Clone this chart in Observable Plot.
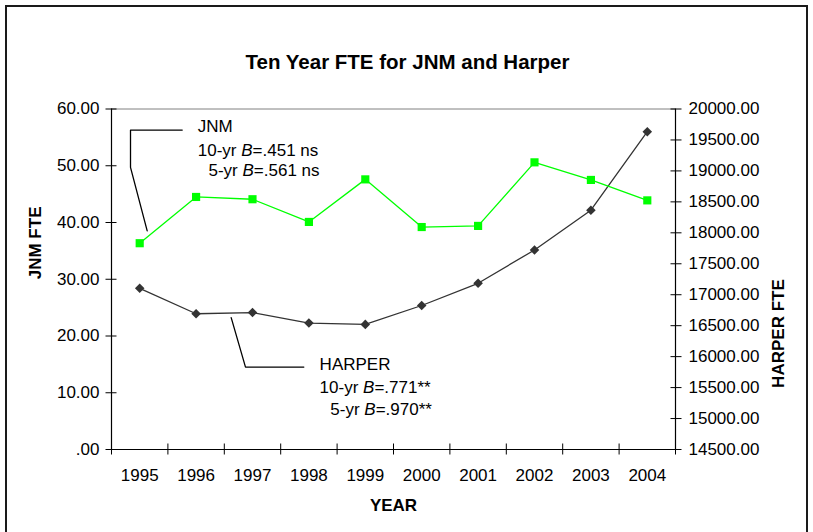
<!DOCTYPE html>
<html><head><meta charset="utf-8">
<script src="https://cdn.jsdelivr.net/npm/d3@7"></script>
<script src="https://cdn.jsdelivr.net/npm/@observablehq/plot@0.6"></script>
<style>
html,body{margin:0;padding:0;background:#fff;overflow:hidden;}
#wrap{position:relative;width:813px;height:532px;overflow:hidden;}
#frame{position:absolute;left:5px;top:5px;width:803px;height:560px;border:2px solid #1a1a1a;box-sizing:border-box;pointer-events:none;}
</style></head><body>
<div id="wrap"><div id="chart"></div><div id="frame"></div></div>
<script>
// ---- data ----
const years = [1995, 1996, 1997, 1998, 1999, 2000, 2001, 2002, 2003, 2004];
const jnm = [36.35, 44.5, 44.1, 40.1, 47.6, 39.2, 39.4, 50.6, 47.5, 43.9];
const harper = [17104, 16693, 16712, 16542, 16521, 16826, 17185, 17723, 18366, 19633];
const leftTicks = [0, 10, 20, 30, 40, 50, 60];
const rightTicks = [14500, 15000, 15500, 16000, 16500, 17000, 17500, 18000, 18500, 19000, 19500, 20000];
const title = "Ten Year FTE for JNM and Harper";
const xTitle = "YEAR", yLeftTitle = "JNM FTE", yRightTitle = "HARPER FTE";

// annotation (data coordinates: year, JNM scale)
const jnmLeader = [[1995.133, 38.52], [1994.837, 49.71], [1994.837, 56.29], [1995.754, 56.29]];
const harperLeader = [[1996.622, 23.24], [1996.876, 14.52], [1997.91, 14.52]];
const notes = [
  {x: 1996.03, y: 56.87, text: "JNM"},
  {x: 1996.03, y: 52.76, text: "10-yr B=.451 ns"},
  {x: 1996.22, y: 49.11, text: "5-yr B=.561 ns"},
  {x: 1998.19, y: 15.0, text: "HARPER"},
  {x: 1998.19, y: 10.89, text: "10-yr B=.771**"},
  {x: 1998.38, y: 7.0, text: "5-yr B=.970**"}
];

// ---- derived ----
const hMin = rightTicks[0], hMax = rightTicks[rightTicks.length - 1];
const lMax = leftTicks[leftTicks.length - 1];
const toLeft = h => (h - hMin) / (hMax - hMin) * lMax;
const fromLeft = v => Math.round(v * (hMax - hMin) / lMax + hMin);
const rows = years.map((y, i) => ({year: y, jnm: jnm[i], harper: harper[i]}));
const xMin = years[0] - 0.5, xMax = years[years.length - 1] + 0.5;
const bounds = years.map(y => y - 0.5).concat([xMax]);
const fmtL = d => d3.format(".2f")(d).replace(/^0\./, ".");
const fmtR = d => d3.format(".2f")(fromLeft(d));
const FONT = "Liberation Sans, Arial, Helvetica, sans-serif";

const chart = Plot.plot({
  width: 813,
  height: 532,
  marginLeft: 111,
  marginRight: 138,
  marginTop: 108.5,
  marginBottom: 83,
  style: {fontFamily: FONT, fontSize: "17px", color: "#000", background: "transparent", overflow: "visible"},
  x: {domain: [xMin, xMax], axis: null},
  y: {domain: [0, lMax], axis: null},
  marks: [
    Plot.ruleY([lMax], {stroke: "#808080", strokeWidth: 1}),
    Plot.ruleX([xMin], {stroke: "#000", strokeWidth: 1.2}),
    Plot.ruleX([xMax], {stroke: "#000", strokeWidth: 1.2}),
    Plot.ruleY([0], {stroke: "#000", strokeWidth: 1.2}),
    // tick marks crossing the axes
    Plot.axisY({anchor: "left", ticks: leftTicks, tickSize: 11, dx: 5.5, fill: "none", label: null, stroke: "#000"}),
    Plot.axisY({anchor: "right", ticks: rightTicks.map(toLeft), tickSize: 11, dx: -5.5, fill: "none", label: null, stroke: "#000"}),
    Plot.axisX({anchor: "bottom", ticks: bounds, tickSize: 11, dy: -5.5, fill: "none", label: null, stroke: "#000"}),
    // tick labels
    Plot.axisY({anchor: "left", ticks: leftTicks, tickSize: 0, tickPadding: 12, tickFormat: fmtL, label: null, fontSize: 17, fill: "#000"}),
    Plot.axisY({anchor: "right", ticks: rightTicks.map(toLeft), tickSize: 0, tickPadding: 13, tickFormat: fmtR, label: null, fontSize: 17, fill: "#000"}),
    Plot.axisX({anchor: "bottom", ticks: years, tickSize: 0, tickPadding: 19, tickFormat: d => String(d), label: null, fontSize: 17, fill: "#000"}),
    // series
    Plot.line(rows, {x: "year", y: d => toLeft(d.harper), stroke: "#333333", strokeWidth: 1.3}),
    Plot.dot(rows, {x: "year", y: d => toLeft(d.harper), symbol: "diamond2", r: 4.3, fill: "#333333"}),
    Plot.line(rows, {x: "year", y: "jnm", stroke: "#00ff00", strokeWidth: 1.3}),
    Plot.dot(rows, {x: "year", y: "jnm", symbol: "square", r: 4.6, fill: "#00ff00"}),
    // annotations
    Plot.line(jnmLeader, {x: d => d[0], y: d => d[1], stroke: "#000", strokeWidth: 1.3}),
    Plot.line(harperLeader, {x: d => d[0], y: d => d[1], stroke: "#000", strokeWidth: 1.3}),
    Plot.text(notes, {x: "x", y: "y", text: "text", textAnchor: "start", lineAnchor: "middle", fontSize: 17, fill: "#000", className: "note"}),
    // titles
    Plot.text([title], {frameAnchor: "top", dx: 14, dy: -46.5, lineAnchor: "middle", fontSize: 20.5, fontWeight: "bold", fill: "#000"}),
    Plot.text([xTitle], {frameAnchor: "bottom", dy: 56, lineAnchor: "middle", fontSize: 17, fontWeight: "bold", fill: "#000"}),
    Plot.text([yLeftTitle], {frameAnchor: "left", dx: -76, rotate: -90, lineAnchor: "middle", fontSize: 17, fontWeight: "bold", fill: "#000"}),
    Plot.text([yRightTitle], {frameAnchor: "right", dx: 103, rotate: -90, lineAnchor: "middle", fontSize: 17, fontWeight: "bold", fill: "#000"})
  ]
});
document.getElementById("chart").appendChild(chart);

// italic "B" in annotation notes
d3.select(chart).selectAll("g.note text, .note text").each(function () {
  const t = this.textContent;
  const m = t.match(/^(.*?)B(=.*)$/);
  if (!m) return;
  this.textContent = "";
  this.appendChild(document.createTextNode(m[1]));
  const ts = document.createElementNS("http://www.w3.org/2000/svg", "tspan");
  ts.setAttribute("font-style", "italic");
  ts.textContent = "B";
  this.appendChild(ts);
  this.appendChild(document.createTextNode(m[2]));
});
</script>
</body></html>
